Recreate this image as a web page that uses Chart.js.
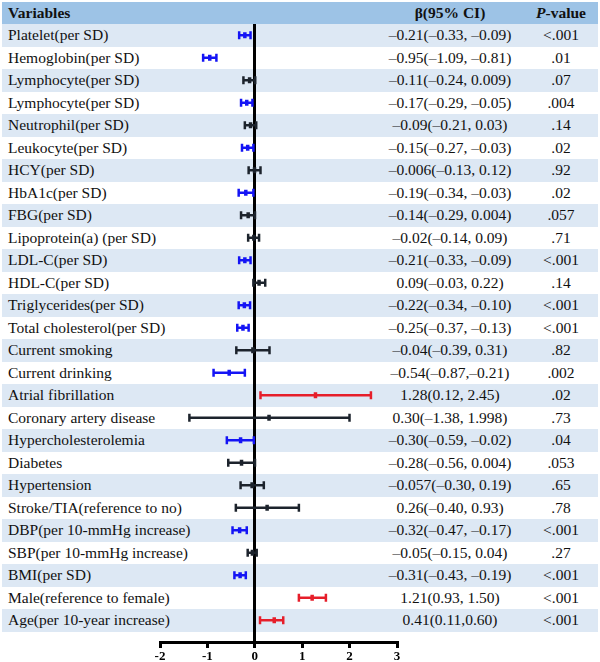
<!DOCTYPE html>
<html>
<head>
<meta charset="utf-8">
<script src="https://cdn.jsdelivr.net/npm/chart.js@4.4.1/dist/chart.umd.min.js"></script>
<style>
  html, body { margin: 0; padding: 0; background: #fff; }
  #wrap { position: relative; width: 600px; height: 662px; overflow: hidden; font-family: "Liberation Serif", "Times New Roman", serif; font-size: 15.5px; color: #111; }
  .row { position: absolute; left: 2px; width: 596px; height: 22.5px; line-height: 22.5px; white-space: nowrap; }
  .row.head { top: 2px; height: 22px; line-height: 22px; background: #9dc3e6; font-weight: bold; }
  .row.band { background: #dde8f4; }
  .name { position: absolute; left: 6px; }
  .ci { position: absolute; left: 348px; width: 200px; text-align: center; }
  .pv { position: absolute; left: 520px; width: 78px; text-align: center; }
  canvas { position: absolute; left: 0; top: 0; }
</style>
</head>
<body>
<div id="wrap">
  <div id="rows"></div>
  <canvas id="forestChart" width="600" height="662"></canvas>
</div>
<script>
// ========== Data ==========
const variables = [
  'Platelet(per SD)', 'Hemoglobin(per SD)', 'Lymphocyte(per SD)', 'Lymphocyte(per SD)',
  'Neutrophil(per SD)', 'Leukocyte(per SD)', 'HCY(per SD)', 'HbA1c(per SD)', 'FBG(per SD)',
  'Lipoprotein(a) (per SD)', 'LDL-C(per SD)', 'HDL-C(per SD)', 'Triglycerides(per SD)',
  'Total cholesterol(per SD)', 'Current smoking', 'Current drinking', 'Atrial fibrillation',
  'Coronary artery disease', 'Hypercholesterolemia', 'Diabetes', 'Hypertension',
  'Stroke/TIA(reference to no)', 'DBP(per 10-mmHg increase)', 'SBP(per 10-mmHg increase)',
  'BMI(per SD)', 'Male(reference to female)', 'Age(per 10-year increase)'
];
const beta  = [-0.21, -0.95, -0.11, -0.17, -0.09, -0.15, -0.006, -0.19, -0.14, -0.02, -0.21, 0.09, -0.22, -0.25, -0.04, -0.54, 1.28, 0.30, -0.30, -0.28, -0.057, 0.26, -0.32, -0.05, -0.31, 1.21, 0.41];
const lower = [-0.33, -1.09, -0.24, -0.29, -0.21, -0.27, -0.13, -0.34, -0.29, -0.14, -0.33, -0.03, -0.34, -0.37, -0.39, -0.87, 0.12, -1.38, -0.59, -0.56, -0.30, -0.40, -0.47, -0.15, -0.43, 0.93, 0.11];
const upper = [-0.09, -0.81, 0.009, -0.05, 0.03, -0.03, 0.12, -0.03, 0.004, 0.09, -0.09, 0.22, -0.10, -0.13, 0.31, -0.21, 2.45, 1.998, -0.02, 0.004, 0.19, 0.93, -0.17, 0.04, -0.19, 1.50, 0.60];
const ciText = [
  '–0.21(–0.33, –0.09)', '–0.95(–1.09, –0.81)', '–0.11(–0.24, 0.009)', '–0.17(–0.29, –0.05)',
  '–0.09(–0.21, 0.03)', '–0.15(–0.27, –0.03)', '–0.006(–0.13, 0.12)', '–0.19(–0.34, –0.03)',
  '–0.14(–0.29, 0.004)', '–0.02(–0.14, 0.09)', '–0.21(–0.33, –0.09)', '0.09(–0.03, 0.22)',
  '–0.22(–0.34, –0.10)', '–0.25(–0.37, –0.13)', '–0.04(–0.39, 0.31)', '–0.54(–0.87,–0.21)',
  '1.28(0.12, 2.45)', '0.30(–1.38, 1.998)', '–0.30(–0.59, –0.02)', '–0.28(–0.56, 0.004)',
  '–0.057(–0.30, 0.19)', '0.26(–0.40, 0.93)', '–0.32(–0.47, –0.17)', '–0.05(–0.15, 0.04)',
  '–0.31(–0.43, –0.19)', '1.21(0.93, 1.50)', '0.41(0.11,0.60)'
];
const pValues = ['<.001', '.01', '.07', '.004', '.14', '.02', '.92', '.02', '.057', '.71', '<.001', '.14', '<.001', '<.001', '.82', '.002', '.02', '.73', '.04', '.053', '.65', '.78', '<.001', '.27', '<.001', '<.001', '<.001'];
const xTicks = [-2, -1, 0, 1, 2, 3];

// ========== Table rows (text) ==========
const ROW_TOP = 24, ROW_H = 22.5;
const rowsEl = document.getElementById('rows');
rowsEl.innerHTML =
  '<div class="row head"><span class="name">Variables</span><span class="ci">β(95% CI)</span><span class="pv"><i>P</i>-value</span></div>' +
  variables.map((v, i) =>
    `<div class="row${i % 2 === 0 ? ' band' : ''}" style="top:${ROW_TOP + i * ROW_H}px">` +
    `<span class="name">${v}</span><span class="ci">${ciText[i]}</span><span class="pv">${pValues[i].replace('<', '&lt;')}</span></div>`
  ).join('');

// ========== Forest plot ==========
const BLUE = '#1414f5', RED = '#e61e2a', DARK = '#1c232c';
const colorOf = i => upper[i] < 0 ? BLUE : (lower[i] > 0 ? RED : DARK);

const ciSets = variables.map((v, i) => ({
  type: 'line',
  label: v,
  data: [{ x: lower[i], y: i }, { x: upper[i], y: i }],
  borderColor: colorOf(i),
  borderWidth: 2.5,
  pointStyle: 'line',
  pointRotation: 90,
  pointRadius: 4,
  pointBorderWidth: 2.5,
  pointBorderColor: colorOf(i),
  clip: false
}));

const estSet = {
  type: 'scatter',
  label: 'β',
  data: beta.map((b, i) => ({ x: b, y: i })),
  pointStyle: 'line',
  pointRotation: 90,
  pointRadius: 3,
  pointBorderWidth: 3.5,
  pointBorderColor: variables.map((v, i) => colorOf(i)),
  clip: false
};

const ctx = document.getElementById('forestChart').getContext('2d');
new Chart(ctx, {
  type: 'scatter',
  data: { datasets: [...ciSets, estSet] },
  options: {
    responsive: false,
    animation: false,
    devicePixelRatio: 1,
    layout: { padding: { left: 160, right: 203, top: ROW_TOP, bottom: 0 } },
    plugins: { legend: { display: false }, tooltip: { enabled: false } },
    scales: {
      x: {
        type: 'linear',
        min: xTicks[0],
        max: xTicks[xTicks.length - 1],
        afterBuildTicks: scale => { scale.ticks = xTicks.map(v => ({ value: v })); },
        afterFit: scale => { scale.height = 20; },
        ticks: {
          color: '#000',
          padding: 1,
          font: { family: 'Liberation Serif', size: 13, weight: 'bold' }
        },
        grid: {
          color: c => (c.tick && c.tick.value === 0) ? '#000' : 'rgba(0,0,0,0)',
          lineWidth: 3,
          tickColor: '#000',
          tickWidth: 3,
          tickLength: 6
        },
        border: { display: true, color: '#000', width: 3 }
      },
      y: {
        type: 'linear',
        display: false,
        reverse: true,
        min: -0.5,
        max: (642 - ROW_TOP) / ROW_H - 0.5
      }
    }
  }
});
</script>
</body>
</html>
